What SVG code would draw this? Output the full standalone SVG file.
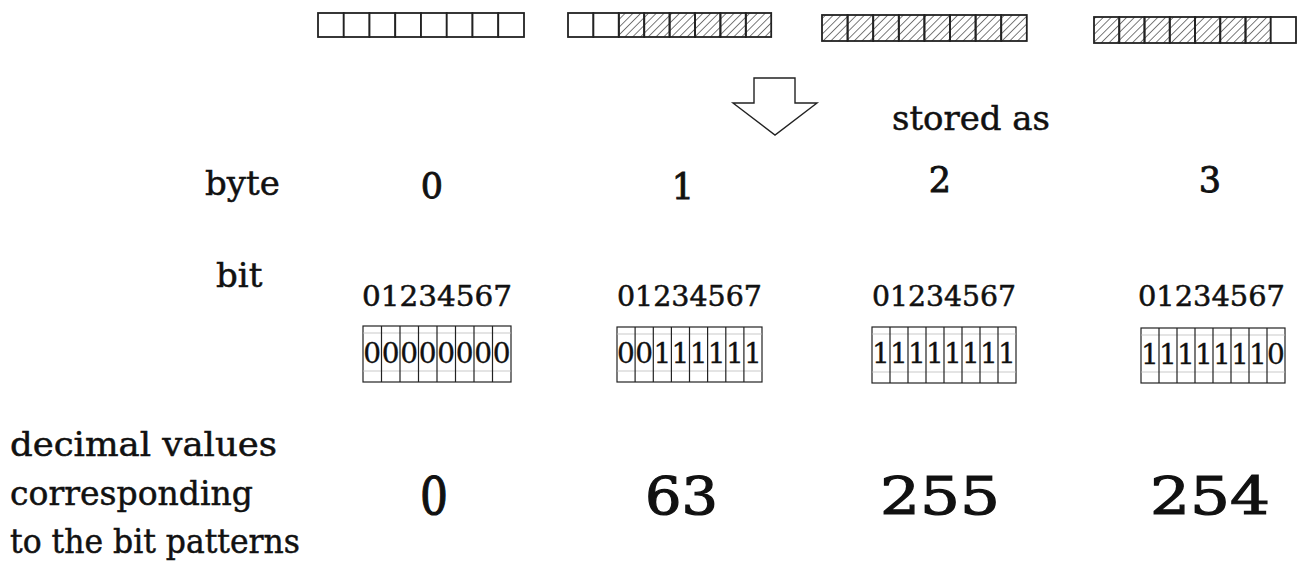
<svg xmlns="http://www.w3.org/2000/svg" width="1300" height="572" viewBox="0 0 1300 572">
<defs>
<pattern id="hatch" patternUnits="userSpaceOnUse" width="5.5" height="5.5" patternTransform="rotate(45)">
<line x1="0" y1="0" x2="0" y2="5.5" stroke="#222" stroke-width="1.2"/>
</pattern>
</defs>
<style>
.c{fill:#fff;stroke:#222;stroke-width:1.8}
.h{fill:url(#hatch);stroke:#222;stroke-width:1.8}
.g{fill:none;stroke:#222;stroke-width:1.2}
.gl{stroke:#bbb;stroke-width:0.8}
.t{font-family:"DejaVu Serif","Liberation Serif",serif;fill:#111;stroke:#111;stroke-width:0.5}
.lab{font-size:34px}
.num{font-size:35px;text-anchor:middle;stroke-width:0.9}
.bits{font-size:27px}
.d{font-size:28px;text-anchor:middle;stroke-width:0.3}
.big{font-size:52px;stroke-width:1.2}
.arrow{fill:#fff;stroke:#222;stroke-width:1.4}
</style>
<rect width="1300" height="572" fill="#fff"/>

<g id="row-byte0">
<rect class="c" x="318" y="13" width="25.75" height="24"/><rect class="c" x="343.75" y="13" width="25.75" height="24"/><rect class="c" x="369.5" y="13" width="25.75" height="24"/><rect class="c" x="395.25" y="13" width="25.75" height="24"/><rect class="c" x="421" y="13" width="25.75" height="24"/><rect class="c" x="446.75" y="13" width="25.75" height="24"/><rect class="c" x="472.5" y="13" width="25.75" height="24"/><rect class="c" x="498.25" y="13" width="25.75" height="24"/>
</g>
<g id="row-byte1">
<rect class="c" x="568" y="13" width="25.4" height="24"/><rect class="c" x="593.4" y="13" width="25.4" height="24"/><rect class="h" x="618.8" y="13" width="25.4" height="24"/><rect class="h" x="644.2" y="13" width="25.4" height="24"/><rect class="h" x="669.6" y="13" width="25.4" height="24"/><rect class="h" x="695" y="13" width="25.4" height="24"/><rect class="h" x="720.4" y="13" width="25.4" height="24"/><rect class="h" x="745.8" y="13" width="25.4" height="24"/>
</g>
<g id="row-byte2">
<rect class="h" x="822" y="15" width="25.6" height="26"/><rect class="h" x="847.6" y="15" width="25.6" height="26"/><rect class="h" x="873.2" y="15" width="25.6" height="26"/><rect class="h" x="898.8" y="15" width="25.6" height="26"/><rect class="h" x="924.4" y="15" width="25.6" height="26"/><rect class="h" x="950" y="15" width="25.6" height="26"/><rect class="h" x="975.6" y="15" width="25.6" height="26"/><rect class="h" x="1001.2" y="15" width="25.6" height="26"/>
</g>
<g id="row-byte3">
<rect class="h" x="1094" y="17" width="25.25" height="26"/><rect class="h" x="1119.25" y="17" width="25.25" height="26"/><rect class="h" x="1144.5" y="17" width="25.25" height="26"/><rect class="h" x="1169.75" y="17" width="25.25" height="26"/><rect class="h" x="1195" y="17" width="25.25" height="26"/><rect class="h" x="1220.25" y="17" width="25.25" height="26"/><rect class="h" x="1245.5" y="17" width="25.25" height="26"/><rect class="c" x="1270.75" y="17" width="25.25" height="26"/>
</g>

<g id="connectors">
<polygon class="arrow" points="754,78 795,78 795,103 817,103 775,135 733,103 754,103"/>
</g>

<g id="labels">
<text class="t lab" x="892" y="130" textLength="158" lengthAdjust="spacingAndGlyphs">stored as</text>
<text class="t lab" x="205" y="195">byte</text>
<text class="t lab" x="216" y="287">bit</text>
<text class="t lab" x="10" y="456" textLength="267" lengthAdjust="spacingAndGlyphs">decimal values</text>
<text class="t lab" x="10" y="505" textLength="243" lengthAdjust="spacingAndGlyphs">corresponding</text>
<text class="t lab" x="10" y="553" textLength="290" lengthAdjust="spacingAndGlyphs">to the bit patterns</text>
</g>

<g id="byte-numbers">
<text class="t num" x="432" y="198">0</text>
<text class="t num" x="683" y="199">1</text>
<text class="t num" x="940" y="192">2</text>
<text class="t num" x="1210" y="192">3</text>
</g>

<g id="bit-indices">
<text class="t bits" x="362" y="306" textLength="150" lengthAdjust="spacingAndGlyphs">01234567</text>
<text class="t bits" x="617" y="306" textLength="145" lengthAdjust="spacingAndGlyphs">01234567</text>
<text class="t bits" x="872" y="306" textLength="144" lengthAdjust="spacingAndGlyphs">01234567</text>
<text class="t bits" x="1138" y="306" textLength="147" lengthAdjust="spacingAndGlyphs">01234567</text>
</g>

<g id="bitbox0">
<rect class="g" x="363" y="326" width="148" height="56"/>
<line class="gl" x1="363" y1="333" x2="511" y2="333"/><line class="gl" x1="363" y1="371" x2="511" y2="371"/>
<path class="g" d="M381.5 326V382M400 326V382M418.5 326V382M437 326V382M455.5 326V382M474 326V382M492.5 326V382"/>
<text class="t d" x="372.25" y="363">0</text><text class="t d" x="390.75" y="363">0</text><text class="t d" x="409.25" y="363">0</text><text class="t d" x="427.75" y="363">0</text><text class="t d" x="446.25" y="363">0</text><text class="t d" x="464.75" y="363">0</text><text class="t d" x="483.25" y="363">0</text><text class="t d" x="501.75" y="363">0</text>
</g>
<g id="bitbox1">
<rect class="g" x="617" y="327" width="145" height="55"/>
<line class="gl" x1="617" y1="334" x2="762" y2="334"/><line class="gl" x1="617" y1="371" x2="762" y2="371"/>
<path class="g" d="M635.1 327V382M653.3 327V382M671.4 327V382M689.5 327V382M707.6 327V382M725.8 327V382M743.9 327V382"/>
<text class="t d" x="626" y="363">0</text><text class="t d" x="644.2" y="363">0</text><text class="t d" x="662.3" y="363">1</text><text class="t d" x="680.4" y="363">1</text><text class="t d" x="698.6" y="363">1</text><text class="t d" x="716.7" y="363">1</text><text class="t d" x="734.8" y="363">1</text><text class="t d" x="752.9" y="363">1</text>
</g>
<g id="bitbox2">
<rect class="g" x="872" y="327" width="144" height="56"/>
<line class="gl" x1="872" y1="334" x2="1016" y2="334"/><line class="gl" x1="872" y1="372" x2="1016" y2="372"/>
<path class="g" d="M890 327V383M908 327V383M926 327V383M944 327V383M962 327V383M980 327V383M998 327V383"/>
<text class="t d" x="881" y="363">1</text><text class="t d" x="899" y="363">1</text><text class="t d" x="917" y="363">1</text><text class="t d" x="935" y="363">1</text><text class="t d" x="953" y="363">1</text><text class="t d" x="971" y="363">1</text><text class="t d" x="989" y="363">1</text><text class="t d" x="1007" y="363">1</text>
</g>
<g id="bitbox3">
<rect class="g" x="1141" y="328" width="144" height="55"/>
<line class="gl" x1="1141" y1="335" x2="1285" y2="335"/><line class="gl" x1="1141" y1="372" x2="1285" y2="372"/>
<path class="g" d="M1159 328V383M1177 328V383M1195 328V383M1213 328V383M1231 328V383M1249 328V383M1267 328V383"/>
<text class="t d" x="1150" y="364">1</text><text class="t d" x="1168" y="364">1</text><text class="t d" x="1186" y="364">1</text><text class="t d" x="1204" y="364">1</text><text class="t d" x="1222" y="364">1</text><text class="t d" x="1240" y="364">1</text><text class="t d" x="1258" y="364">1</text><text class="t d" x="1276" y="364">0</text>
</g>

<g id="decimal-values">
<text class="t big" x="420" y="514" textLength="28" lengthAdjust="spacingAndGlyphs">0</text>
<text class="t big" x="645" y="514" textLength="73" lengthAdjust="spacingAndGlyphs">63</text>
<text class="t big" x="880" y="514" textLength="120" lengthAdjust="spacingAndGlyphs">255</text>
<text class="t big" x="1150" y="514" textLength="120" lengthAdjust="spacingAndGlyphs">254</text>
</g>
</svg>
